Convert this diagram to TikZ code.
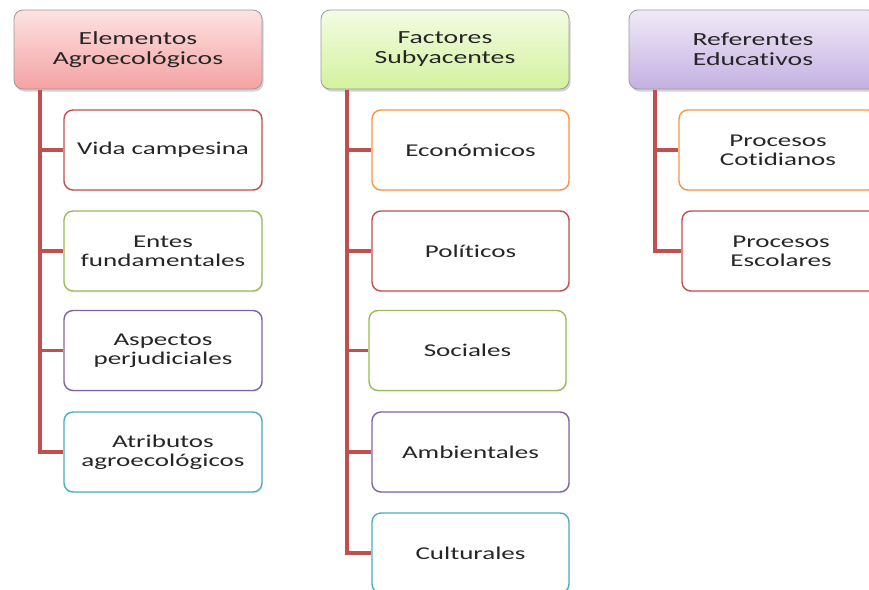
\documentclass[tikz,border=0pt]{standalone}
\usepackage{fontspec}
\setmainfont[FakeStretch=1.5, Ligatures={NoCommon,NoDiscretionary}]{Carlito}
\usetikzlibrary{shadows}
\definecolor{trunk}{HTML}{C0504D}
\definecolor{cred}{HTML}{C0504D}
\definecolor{cgreen}{HTML}{9BBB59}
\definecolor{cpurple}{HTML}{8064A2}
\definecolor{cblue}{HTML}{4BACC6}
\definecolor{corange}{HTML}{F79646}
\definecolor{hgray}{HTML}{9A9A9A}
\definecolor{pinkT}{HTML}{FDE2E2}
\definecolor{pinkB}{HTML}{F4A2A2}
\definecolor{greenT}{HTML}{F3FCE4}
\definecolor{greenB}{HTML}{D3F29E}
\definecolor{purpT}{HTML}{F0EAF7}
\definecolor{purpB}{HTML}{C4B0E2}
\definecolor{txt}{HTML}{262626}
\tikzset{
  header/.style={draw=hgray, line width=0.8pt, rounded corners=9pt, minimum width=248pt, minimum height=79pt,
    align=center, font=\fontsize{18.5}{20}\selectfont, text=txt,
    drop shadow={shadow xshift=1.5pt, shadow yshift=-2.5pt, fill=black!35, opacity=0.5}},
  child/.style={draw=#1, line width=1.4pt, rounded corners=9pt, fill=white, minimum width=198pt, minimum height=80pt,
    align=center, font=\fontsize{18}{19}\selectfont, text=txt,
    drop shadow={shadow xshift=1pt, shadow yshift=-1.5pt, fill=black!15, opacity=0.4}},
  conn/.style={draw=trunk, line width=3.5pt}
}
\begin{document}
\begin{tikzpicture}[x=1pt,y=-1pt]
\useasboundingbox (0,0) rectangle (869,589);
\fill[white] (0,0) rectangle (869,589);
% headers
\node[header, top color=pinkT, bottom color=pinkB] (h1) at (138,49.5) {Elementos\\Agroecológicos};
\node[header, top color=greenT, bottom color=greenB] (h2) at (445,49.5) {Factores\\Subyacentes};
\node[header, top color=purpT, bottom color=purpB] (h3) at (753,49.5) {Referentes\\Educativos};
% left children
\node[child=cred] (a1) at (163,150) {Vida campesina};
\node[child=cgreen] (a2) at (163,251) {Entes\\fundamentales};
\node[child=cpurple] (a3) at (163,350.5) {Aspectos\\perjudiciales};
\node[child=cblue] (a4) at (163,452) {Atributos\\agroecológicos};
% middle children
\node[child=corange, minimum width=197pt] (b1) at (470.5,150) {Económicos};
\node[child=cred, minimum width=197pt] (b2) at (470.5,251) {Políticos};
\node[child=cgreen, minimum width=197pt] (b3) at (467.5,350.5) {Sociales};
\node[child=cpurple, minimum width=197pt] (b4) at (470.5,452) {Ambientales};
\node[child=cblue, minimum width=197pt] (b5) at (470.5,553) {Culturales};
% right children
\node[child=corange] (c1) at (778,150) {Procesos\\Cotidianos};
\node[child=cred] (c2) at (781,251) {Procesos\\Escolares};
% trunks
\coordinate (t1) at (40,89.5);
\coordinate (t2) at (347,89.5);
\coordinate (t3) at (655,89.5);
\foreach \n in {a1,a2,a3,a4} {\draw[conn] (t1) |- (\n.west);}
\foreach \n in {b1,b2,b3,b4,b5} {\draw[conn] (t2) |- (\n.west);}
\foreach \n in {c1,c2} {\draw[conn] (t3) |- (\n.west);}
\end{tikzpicture}
\end{document}
